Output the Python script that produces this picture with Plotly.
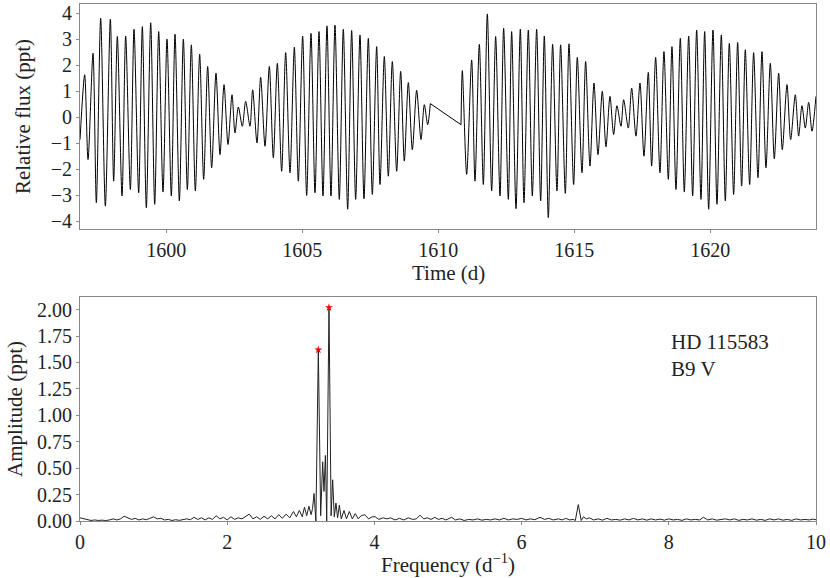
import plotly.graph_objects as go
from plotly.subplots import make_subplots

# ---- Light curve: extrema (time in d, flux in ppt) ----
lc_time = [
    1596.831, 1597.002, 1597.125, 1597.308, 1597.431, 1597.590, 1597.762, 1597.946,
    1598.068, 1598.203, 1598.375, 1598.509, 1598.681, 1598.816, 1598.987, 1599.122,
    1599.269, 1599.429, 1599.576, 1599.723, 1599.882, 1600.029, 1600.188, 1600.323,
    1600.483, 1600.630, 1600.777, 1600.924, 1601.071, 1601.230, 1601.377, 1601.524,
    1601.671, 1601.830, 1601.978, 1602.125, 1602.272, 1602.419,
    1602.529, 1602.651, 1602.798, 1602.921, 1603.080, 1603.178, 1603.337, 1603.472,
    1603.632, 1603.791, 1603.938, 1604.085, 1604.244, 1604.391, 1604.551, 1604.710,
    1604.857, 1605.016, 1605.164, 1605.323, 1605.470, 1605.617, 1605.764, 1605.911,
    1606.058, 1606.205, 1606.364, 1606.511, 1606.671, 1606.818, 1606.965, 1607.124,
    1607.271, 1607.431, 1607.578, 1607.737,
    1607.860, 1608.019, 1608.166, 1608.313, 1608.473, 1608.620, 1608.754, 1608.901,
    1609.049, 1609.208, 1609.367, 1609.490, 1609.612, 1609.710,
    1610.838, 1610.887, 1611.046, 1611.230, 1611.352, 1611.512, 1611.659, 1611.806,
    1611.965, 1612.112, 1612.272, 1612.406, 1612.578, 1612.700, 1612.860, 1613.019,
    1613.154, 1613.313,
    1613.460, 1613.619, 1613.766, 1613.901, 1614.048, 1614.207, 1614.366, 1614.501,
    1614.673, 1614.808, 1614.979, 1615.114, 1615.286, 1615.420, 1615.580, 1615.727,
    1615.874, 1616.033, 1616.168, 1616.315, 1616.450, 1616.572, 1616.719, 1616.817,
    1616.989, 1617.112, 1617.271, 1617.418, 1617.565, 1617.724, 1617.847, 1617.994,
    1618.153, 1618.300, 1618.460, 1618.594,
    1618.742, 1618.901, 1619.048, 1619.208, 1619.355, 1619.502, 1619.661, 1619.796,
    1619.943, 1620.102, 1620.249, 1620.409, 1620.556, 1620.703, 1620.862, 1621.009,
    1621.156, 1621.291, 1621.450, 1621.597, 1621.757, 1621.904, 1622.051, 1622.210,
    1622.357, 1622.517, 1622.651, 1622.823, 1622.958, 1623.129, 1623.252, 1623.374,
    1623.497, 1623.620, 1623.742, 1623.889,
]
lc_flux = [
    -0.86, 1.63, -1.63, 2.46, -3.29, 3.80, -3.42, 3.77,
    -2.46, 3.10, -3.03, 3.12, -2.78, 3.38, -2.91, 3.48,
    -3.48, 3.63, -3.35, 3.29, -2.88, 3.00, -3.03, 3.19,
    -3.22, 3.00, -2.78, 2.78, -2.84, 2.42, -2.39, 1.95,
    -1.95, 1.69, -1.44, 1.25, -1.05, 0.86,
    -0.61, 0.39, -0.35, 0.61, -0.35, 1.05, -0.99, 1.53,
    -1.12, 1.95, -1.56, 2.07, -2.08, 2.48, -2.14, 2.69,
    -2.46, 3.12, -3.01, 3.22, -2.91, 3.29, -3.03, 3.51,
    -3.03, 3.54, -3.16, 3.38, -3.54, 3.33, -3.16, 3.16,
    -3.14, 3.03, -2.97, 2.71,
    -2.59, 2.33, -2.27, 2.14, -2.08, 1.76, -1.69, 1.33,
    -1.25, 1.03, -0.86, 0.48, -0.29, 0.52,
    -0.29, 1.79, -2.20, 2.20, -2.46, 2.80, -2.59, 3.97,
    -2.84, 3.10, -3.03, 3.42, -3.16, 3.29, -3.52, 3.38,
    -3.29, 3.35,
    -3.03, 3.38, -3.22, 3.12, -3.86, 2.80, -2.84, 2.78,
    -2.93, 2.82, -2.59, 2.30, -2.14, 2.14, -1.88, 1.31,
    -1.44, 0.99, -1.14, 0.80, -0.67, 0.44, -0.35, 0.67,
    -0.42, 1.12, -0.73, 1.31, -1.50, 1.72, -1.88, 2.30,
    -2.14, 2.52, -2.39, 2.71,
    -2.78, 3.03, -2.88, 3.12, -3.03, 3.35, -3.16, 3.29,
    -3.54, 3.35, -3.35, 3.16, -3.22, 2.84, -2.97, 2.87,
    -2.65, 2.59, -2.59, 2.48, -2.33, 2.52, -1.95, 2.07,
    -1.60, 1.69, -1.25, 1.25, -0.86, 0.86, -0.73, 0.44,
    -0.42, 0.57, -0.54, 0.80,
]

# ---- Amplitude spectrum (frequency in 1/d, amplitude in ppt) ----
sp_freq = [
    0.00, 0.05, 0.10, 0.15, 0.20, 0.25, 0.30, 0.35, 0.40, 0.45, 0.50, 0.55, 0.60, 0.65,
    0.70, 0.75, 0.80, 0.85, 0.90, 0.95, 1.00, 1.05, 1.10, 1.15, 1.20, 1.25, 1.30, 1.35,
    1.40, 1.45, 1.50, 1.55, 1.60, 1.65, 1.70, 1.75, 1.80, 1.85, 1.90, 1.95, 2.00, 2.05,
    2.10, 2.15, 2.20, 2.25, 2.30, 2.35, 2.40, 2.45, 2.50, 2.55, 2.60, 2.65, 2.70, 2.75,
    2.80, 2.85, 2.90, 2.94, 2.98, 3.02, 3.05, 3.08, 3.11, 3.14, 3.16, 3.18, 3.205, 3.238,
    3.27, 3.297, 3.315, 3.334, 3.352, 3.383, 3.412, 3.433, 3.455, 3.478, 3.50, 3.524,
    3.55, 3.587, 3.62, 3.66, 3.70, 3.74, 3.78, 3.82, 3.87, 3.92, 3.97, 4.01, 4.06, 4.12,
    4.17, 4.22, 4.28, 4.34, 4.40, 4.46, 4.52, 4.57, 4.62, 4.67, 4.72, 4.77, 4.82, 4.87,
    4.92, 4.97, 5.05, 5.10, 5.16, 5.22, 5.28, 5.34, 5.40, 5.46, 5.52, 5.58, 5.64, 5.70,
    5.76, 5.82, 5.88, 5.94, 6.00, 6.06, 6.12, 6.18, 6.25, 6.31, 6.37, 6.43, 6.50, 6.55,
    6.60, 6.65, 6.70, 6.73, 6.77, 6.81, 6.84, 6.88, 6.92, 6.98, 7.04, 7.10, 7.16, 7.22,
    7.28, 7.34, 7.40, 7.46, 7.52, 7.58, 7.64, 7.70, 7.76, 7.82, 7.88, 7.94, 8.00, 8.06,
    8.12, 8.18, 8.24, 8.30, 8.36, 8.42, 8.47, 8.53, 8.59, 8.65, 8.71, 8.77, 8.83, 8.89,
    8.95, 9.01, 9.07, 9.13, 9.19, 9.25, 9.31, 9.37, 9.43, 9.49, 9.55, 9.61, 9.67, 9.73,
    9.79, 9.85, 9.91, 9.96, 10.0,
]
sp_amp = [
    0.030, 0.020, 0.010, 0.005, 0.010, 0.005, 0.008, 0.004, 0.010, 0.020, 0.010, 0.020, 0.045, 0.030,
    0.015, 0.025, 0.010, 0.020, 0.012, 0.025, 0.040, 0.020, 0.025, 0.010, 0.015, 0.005, 0.012, 0.006,
    0.015, 0.020, 0.012, 0.035, 0.015, 0.030, 0.010, 0.030, 0.015, 0.050, 0.020, 0.035, 0.010, 0.040,
    0.015, 0.030, 0.020, 0.045, 0.065, 0.020, 0.040, 0.015, 0.045, 0.020, 0.050, 0.020, 0.060, 0.025,
    0.065, 0.030, 0.090, 0.040, 0.100, 0.040, 0.130, 0.050, 0.140, 0.060, 0.120, 0.260, 0.000, 1.620,
    0.050, 0.560, 0.280, 0.620, 0.000, 2.020, 0.050, 0.390, 0.040, 0.170, 0.030, 0.150,
    0.020, 0.100, 0.020, 0.090, 0.020, 0.070, 0.020, 0.050, 0.060, 0.020, 0.040, 0.040, 0.015, 0.030,
    0.020, 0.030, 0.010, 0.025, 0.010, 0.030, 0.015, 0.020, 0.055, 0.020, 0.030, 0.015, 0.035, 0.015,
    0.025, 0.010, 0.035, 0.010, 0.020, 0.005, 0.015, 0.010, 0.020, 0.008, 0.015, 0.010, 0.020, 0.010,
    0.025, 0.010, 0.020, 0.015, 0.025, 0.010, 0.020, 0.012, 0.035, 0.015, 0.025, 0.010, 0.020, 0.010,
    0.025, 0.010, 0.015, 0.005, 0.155, 0.005, 0.040, 0.020, 0.030, 0.010, 0.020, 0.008, 0.025, 0.010,
    0.015, 0.008, 0.020, 0.010, 0.025, 0.010, 0.020, 0.008, 0.020, 0.010, 0.018, 0.008, 0.020, 0.010,
    0.015, 0.006, 0.020, 0.010, 0.015, 0.010, 0.035, 0.010, 0.020, 0.008, 0.015, 0.020, 0.010, 0.020,
    0.006, 0.015, 0.010, 0.020, 0.008, 0.015, 0.006, 0.020, 0.010, 0.020, 0.008, 0.015, 0.006, 0.020,
    0.010, 0.015, 0.010, 0.018, 0.012,
]

# ---- Marked peak frequencies ----
peak_freq = [3.238, 3.383]
peak_amp = [1.62, 2.02]

star_label = "HD 115583<br>B9 V"

FONT = "Liberation Serif, Times New Roman, serif"
AXCOL = "#888888"
TXT = "#222222"

# split the light curve at the observing gap (the gap itself is drawn as a straight join)
gap_i = max(range(1, len(lc_time)), key=lambda i: lc_time[i] - lc_time[i - 1])

fig = make_subplots(rows=2, cols=1, vertical_spacing=0.0)

lc_line = dict(color="black", width=1, shape="spline", smoothing=0.8)
fig.add_trace(go.Scatter(x=lc_time[:gap_i], y=lc_flux[:gap_i], mode="lines",
                         line=lc_line, showlegend=False), row=1, col=1)
fig.add_trace(go.Scatter(x=lc_time[gap_i - 1:gap_i + 1], y=lc_flux[gap_i - 1:gap_i + 1],
                         mode="lines", line=dict(color="black", width=1),
                         showlegend=False), row=1, col=1)
fig.add_trace(go.Scatter(x=lc_time[gap_i:], y=lc_flux[gap_i:], mode="lines",
                         line=lc_line, showlegend=False), row=1, col=1)
fig.add_trace(go.Scatter(x=sp_freq, y=sp_amp, mode="lines",
                         line=dict(color="#222222", width=1),
                         showlegend=False), row=2, col=1)
fig.add_trace(go.Scatter(x=peak_freq, y=peak_amp, mode="markers",
                         marker=dict(symbol="star", color="red", size=6),
                         showlegend=False), row=2, col=1)

common = dict(showline=True, mirror=True, linecolor=AXCOL, linewidth=1,
              ticks="outside", ticklen=3, tickcolor=AXCOL, showgrid=False,
              zeroline=False, automargin=False,
              tickfont=dict(family=FONT, size=20, color=TXT),
              title_font=dict(family=FONT, size=21, color=TXT))

fig.update_xaxes(range=[1596.83, 1623.89], tickvals=[1600, 1605, 1610, 1615, 1620],
                 **common, row=1, col=1)
fig.update_yaxes(range=[-4.3, 4.35], tickvals=[-4, -3, -2, -1, 0, 1, 2, 3, 4],
                 ticktext=["\u22124", "\u22123", "\u22122", "\u22121", "0", "1", "2", "3", "4"],
                 title_text="Relative flux (ppt)", title_standoff=14, **common, row=1, col=1)
fig.update_xaxes(range=[0, 10], tickvals=[0, 2, 4, 6, 8, 10], **common, row=2, col=1)
fig.update_yaxes(range=[0, 2.12], tickvals=[0, 0.25, 0.5, 0.75, 1.0, 1.25, 1.5, 1.75, 2.0],
                 tickformat=".2f", title_text="Amplitude (ppt)", title_standoff=8,
                 **common, row=2, col=1)

H = 578
B = 57
PH = H - 4 - B


def py(pix):
    return (H - B - pix) / PH


fig.update_layout(
    width=830, height=H,
    margin=dict(l=80, r=14, t=4, b=B),
    plot_bgcolor="white", paper_bgcolor="white",
    xaxis=dict(domain=[0, 1]), yaxis=dict(domain=[0.5648, 1.0]),
    xaxis2=dict(domain=[0, 1]), yaxis2=dict(domain=[0.0, 0.4333]),
    annotations=[
        dict(x=8.0, y=1.57, xref="x2", yref="y2", text=star_label,
             showarrow=False, xanchor="left", yanchor="middle", align="left",
             font=dict(family=FONT, size=21, color=TXT)),
        dict(x=0.5, y=py(273), xref="paper", yref="paper", text="Time (d)",
             showarrow=False, xanchor="center", yanchor="middle",
             font=dict(family=FONT, size=21, color=TXT)),
        dict(x=0.5, y=py(563), xref="paper", yref="paper",
             text="Frequency (d<sup>\u22121</sup>)",
             showarrow=False, xanchor="center", yanchor="middle",
             font=dict(family=FONT, size=21, color=TXT)),
    ],
)

fig.write_html("out.html", config={"displayModeBar": False},
               post_script="document.body.style.margin='0px';")
